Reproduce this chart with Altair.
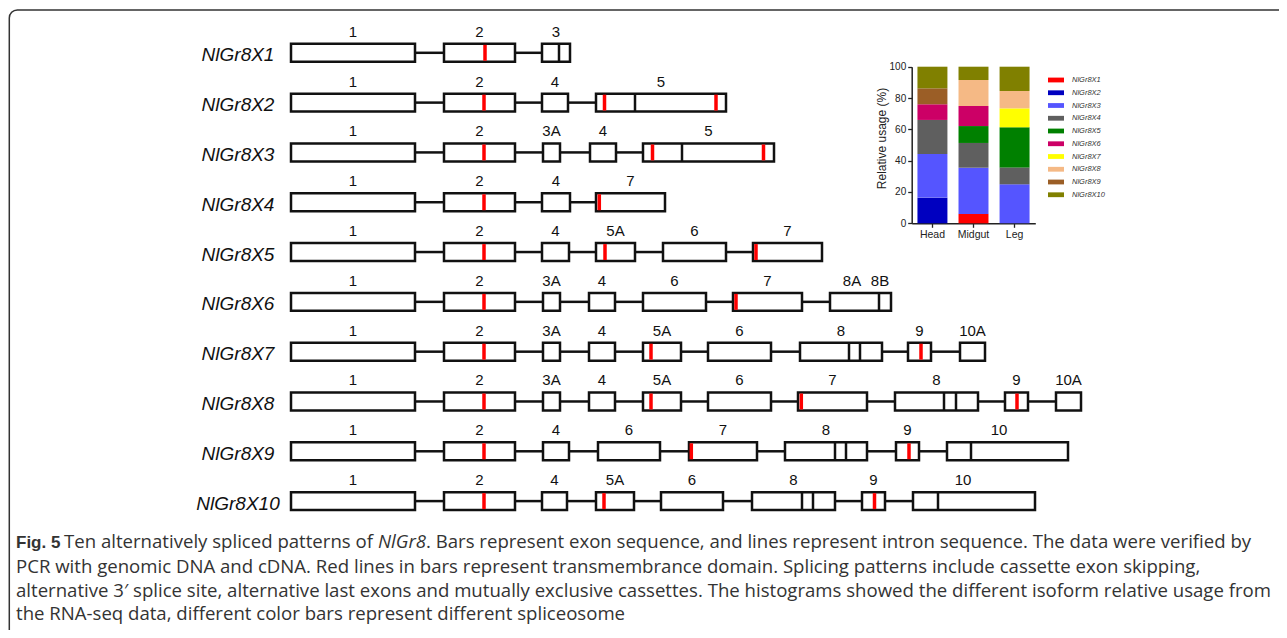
import altair as alt
import pandas as pd

# ---------------- data ----------------
isoforms = ["NlGr8X1", "NlGr8X2", "NlGr8X3", "NlGr8X4", "NlGr8X5",
            "NlGr8X6", "NlGr8X7", "NlGr8X8", "NlGr8X9", "NlGr8X10"]

exon_names = [
    ["1", "2", "3"],
    ["1", "2", "4", "5"],
    ["1", "2", "3A", "4", "5"],
    ["1", "2", "4", "7"],
    ["1", "2", "4", "5A", "6", "7"],
    ["1", "2", "3A", "4", "6", "7", "8A"],
    ["1", "2", "3A", "4", "5A", "6", "8", "9", "10A"],
    ["1", "2", "3A", "4", "5A", "6", "7", "8", "9", "10A"],
    ["1", "2", "4", "6", "7", "8", "9", "10"],
    ["1", "2", "4", "5A", "6", "8", "9", "10"],
]
exon_start = [
    [291, 444, 542],
    [291, 444, 542, 596],
    [291, 444, 543, 590, 643],
    [291, 444, 542, 596],
    [291, 444, 542, 596, 663, 753],
    [291, 444, 543, 589, 643, 733, 830],
    [291, 444, 543, 589, 643, 708, 800, 908, 960],
    [291, 444, 543, 589, 643, 708, 798, 895, 1005, 1056],
    [291, 444, 543, 598, 689, 785, 896, 947],
    [291, 444, 542, 596, 661, 752, 862, 913],
]
exon_end = [
    [415, 515, 570],
    [415, 515, 568, 726],
    [415, 515, 560, 616, 774],
    [415, 515, 570, 665],
    [415, 515, 569, 635, 726, 822],
    [415, 515, 560, 615, 706, 802, 891],
    [415, 515, 560, 615, 681, 771, 882, 931, 985],
    [415, 515, 560, 615, 681, 771, 867, 978, 1028, 1081],
    [415, 515, 569, 660, 757, 867, 919, 1068],
    [415, 515, 567, 634, 723, 835, 885, 1035],
]
# internal boundaries inside exon boxes (alternative splice sites)
exon_divider = [[559], [635], [682], [], [], [879], [849, 860],
                [944, 956], [835, 846, 971], [802, 813, 938]]
# transmembrane-domain marks (red)
tm_domain = [[485], [484, 604.5, 716], [484, 652.5, 763.5], [484, 599.3],
             [484, 605, 756], [484, 736], [484, 651, 921],
             [484, 651, 801.3, 1017], [484, 691.3, 909], [484, 604, 874.5]]
# label adjustments
label_x_override = {("NlGr8X6", "8A"): 852, ("NlGr8X9", "10"): 999, ("NlGr8X10", "10"): 963}
extra_labels = [("NlGr8X6", "8B", 880)]

tissues = ["Head", "Midgut", "Leg"]
usage_head = [0, 16.4, 27.9, 21.7, 0, 10.0, 0, 0, 10.2, 13.8]
usage_midgut = [6.0, 0, 29.5, 15.8, 10.8, 12.8, 0, 16.6, 0, 8.5]
usage_leg = [0, 0, 24.9, 10.8, 25.6, 0, 12.1, 11.1, 0, 15.5]
iso_colors = ["#ff0000", "#0000c0", "#5555ff", "#5f5f5f", "#008000",
              "#cc0066", "#ffff00", "#f5b985", "#9b5e26", "#808000"]

caption_bold = [("Fig. 5", 16, 548)]
caption_italic = [("NlGr8", 378, 548)]
caption_normal = [
    ("Ten alternatively spliced patterns of", 64, 548),
    (". Bars represent exon sequence, and lines represent intron sequence. The data were verified by", 426, 548),
    ("PCR with genomic DNA and cDNA. Red lines in bars represent transmembrance domain. Splicing patterns include cassette exon skipping,", 16, 572.5),
    ("alternative 3\u2032 splice site, alternative last exons and mutually exclusive cassettes. The histograms showed the different isoform relative usage from", 16, 596.5),
    ("the RNA-seq data, different color bars represent different spliceosome", 16, 620),
]

# ---------------- tables ----------------
exons, introns, labels, divs, tms = [], [], [], [], []
for r, iso in enumerate(isoforms):
    names, st, en = exon_names[r], exon_start[r], exon_end[r]
    for k, (n, s, e) in enumerate(zip(names, st, en)):
        exons.append(dict(iso=iso, row=r, s=s, e=e))
        lx = label_x_override.get((iso, n), (s + e) / 2)
        labels.append(dict(iso=iso, row=r, x=lx, t=n))
        if k + 1 < len(st):
            introns.append(dict(row=r, s=e, e=st[k + 1]))
    for d in exon_divider[r]:
        divs.append(dict(row=r, x=d))
    for t in tm_domain[r]:
        tms.append(dict(row=r, x=t))
for iso, t, x in extra_labels:
    labels.append(dict(iso=iso, row=isoforms.index(iso), x=x, t=t))

exons_df = pd.DataFrame(exons)
introns_df = pd.DataFrame(introns)
labels_df = pd.DataFrame(labels)
divs_df = pd.DataFrame(divs)
tms_df = pd.DataFrame(tms)
names_df = pd.DataFrame(dict(row=list(range(10)), name=isoforms))

usage_rows = []
for tis, vals in zip(tissues, [usage_head, usage_midgut, usage_leg]):
    for i, (iso, v) in enumerate(zip(isoforms, vals)):
        if v > 0:
            usage_rows.append(dict(tissue=tis, isoform=iso, value=v, idx=i))
usage_df = pd.DataFrame(usage_rows)

def cap_df(items):
    return pd.DataFrame([dict(t=t, x=x, y=y) for t, x, y in items])

# ---------------- scales ----------------
W, H = 1271, 622
X_PIX = alt.Scale(domain=[8, 8 + W], range=[0, W], nice=False, zero=False)
Y_PIX = alt.Scale(domain=[8, 8 + H], range=[0, H], nice=False, zero=False)
Y_ROW = alt.Scale(domain=[0, 9], range=[44.8, 493.1], nice=False, zero=False)
HALF = 0.18

def xq(f):
    return alt.X(f, type="quantitative", scale=X_PIX, axis=None)

def yrow(f):
    return alt.Y(f, type="quantitative", scale=Y_ROW, axis=None)

frame = alt.Chart(pd.DataFrame({"a": [0]})).mark_rect(
    fill=None, stroke="#333333", strokeWidth=1.5, cornerRadius=8
).encode(x=alt.value(1.3), x2=alt.value(1400), y=alt.value(2), y2=alt.value(800))

intron_layer = alt.Chart(introns_df).mark_rule(color="#111111", strokeWidth=2.5).encode(
    x=xq("s"), x2="e", y=yrow("row"))

exon_layer = alt.Chart(exons_df).transform_calculate(
    y0=f"datum.row - {HALF}", y1=f"datum.row + {HALF}"
).mark_rect(fill="white", stroke="#111111", strokeWidth=2.5).encode(
    x=xq("s"), x2="e", y=yrow("y0"), y2="y1")

tm_layer = alt.Chart(tms_df).transform_calculate(
    y0=f"datum.row - {HALF - 0.02}", y1=f"datum.row + {HALF - 0.02}"
).mark_rule(color="#ff0000", strokeWidth=3.5).encode(
    x=xq("x"), y=yrow("y0"), y2="y1")

div_layer = alt.Chart(divs_df).transform_calculate(
    y0=f"datum.row - {HALF}", y1=f"datum.row + {HALF}"
).mark_rule(color="#111111", strokeWidth=2.5).encode(
    x=xq("x"), y=yrow("y0"), y2="y1")

label_layer = alt.Chart(labels_df).mark_text(
    font="Liberation Sans", fontSize=15, color="#111111", baseline="alphabetic", dy=-16
).encode(x=xq("x"), y=yrow("row"), text="t:N")

name_layer = alt.Chart(names_df).mark_text(
    font="Liberation Sans", fontSize=19, fontStyle="italic", color="#111111",
    baseline="alphabetic", dy=8.5, align="center"
).encode(x=alt.value(238 - 8), y=yrow("row"), text="name:N")

def cap_layer(items, font="Open Sans", size=18.6, **kw):
    return alt.Chart(cap_df(items)).mark_text(
        font=font, fontSize=size, color="#333333", align="left",
        baseline="alphabetic", **kw
    ).encode(x=xq("x"), y=alt.Y("y:Q", scale=Y_PIX, axis=None), text="t:N")

cap_n = cap_layer(caption_normal)
cap_b = cap_layer(caption_bold, font="Liberation Sans Narrow, Liberation Sans", size=17,
                  fontWeight="bold")
cap_i = cap_layer(caption_italic, fontStyle="italic")

bars = alt.Chart(usage_df).mark_bar().encode(
    x=alt.X("tissue:N", sort=tissues,
            scale=alt.Scale(range=[903.7, 1027.3], paddingInner=0.27, paddingOuter=0.14),
            axis=alt.Axis(orient="bottom", offset=-406.7, title=None, labelAngle=0,
                          labelFont="Liberation Sans", labelFontSize=10.5, labelColor="#222222",
                          tickColor="#222222", tickSize=4, tickWidth=1.3,
                          domainColor="#222222", domainWidth=1.5, labelPadding=2)),
    y=alt.Y("value:Q", stack="zero",
            scale=alt.Scale(domain=[0, 100], range=[215.3, 58.7], nice=False),
            axis=alt.Axis(orient="left", offset=-903.7, values=[0, 20, 40, 60, 80, 100],
                          title="Relative usage (%)", titleFont="Liberation Sans",
                          titleFontSize=12, titleFontWeight="normal", titleColor="#222222",
                          titleX=-30, titleY=130, titleAlign="center", titleBaseline="middle",
                          titleAngle=270,
                          labelFont="Liberation Sans", labelFontSize=10,
                          labelColor="#222222", tickColor="#222222", tickSize=4, tickWidth=1.3,
                          domainColor="#222222", domainWidth=1.5, grid=False, labelPadding=2)),
    color=alt.Color("isoform:N", scale=alt.Scale(domain=isoforms, range=iso_colors),
                    legend=alt.Legend(orient="none", legendX=1040, legendY=64, title=None,
                                      symbolType="M-1,-0.3H1V0.3H-1Z", symbolSize=256,
                                      symbolStrokeWidth=0, labelFont="Liberation Sans",
                                      labelFontSize=7.5, labelFontStyle="italic",
                                      labelColor="#333333", rowPadding=0.75, padding=0,
                                      labelOffset=8)),
    order=alt.Order("idx:Q", sort="ascending"),
)

chart = alt.layer(
    frame, intron_layer, exon_layer, tm_layer, div_layer, label_layer, name_layer,
    cap_n, cap_b, cap_i, bars
).resolve_scale(
    x="independent", y="independent", color="independent"
).properties(
    width=W, height=H, padding=0, autosize=alt.AutoSizeParams(type="none")
).configure_view(stroke=None)

chart.save("out.html", embed_options={"renderer": "svg", "actions": False})
